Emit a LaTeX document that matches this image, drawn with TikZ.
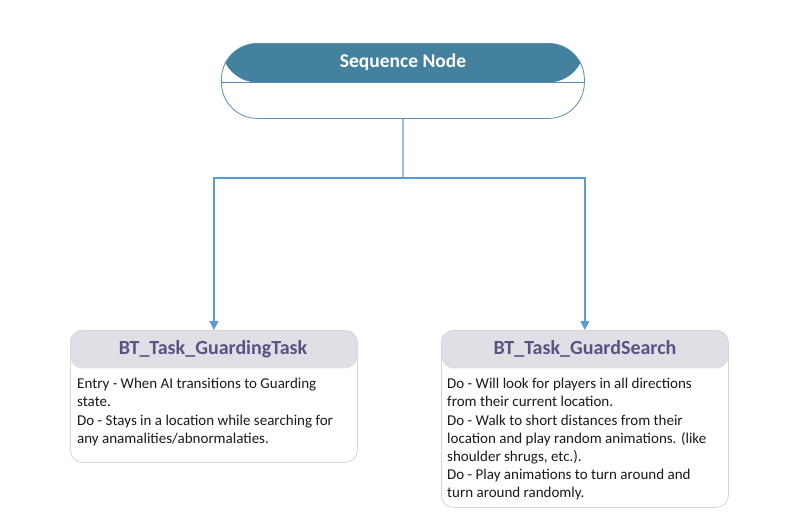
\documentclass[tikz,border=0pt]{standalone}
\usepackage{fontspec}
\setmainfont{Carlito}
\usetikzlibrary{arrows.meta,positioning}
\definecolor{seqhead}{HTML}{44819E}
\definecolor{seqborder}{HTML}{5A8EAD}
\definecolor{conn}{HTML}{5B9BD5}
\definecolor{taskhead}{HTML}{E0DFE6}
\definecolor{taskborder}{HTML}{D6D6DA}
\definecolor{tasktitle}{HTML}{5B5282}
\definecolor{bodytext}{HTML}{1A1A1A}
\tikzset{
  seqbox/.style={draw=seqborder, line width=0.8pt, fill=white, rounded corners=36pt,
    minimum width=363pt, minimum height=75pt, inner sep=0pt,
    path picture={\fill[seqhead] (path picture bounding box.north west) rectangle ([yshift=-39pt]path picture bounding box.north east);
      \draw[seqborder, line width=0.8pt] ([yshift=-39pt]path picture bounding box.north west) -- ([yshift=-39pt]path picture bounding box.north east);}},
  taskbox/.style={draw=taskborder, line width=0.8pt, fill=white, rounded corners=12pt,
    minimum width=287pt, inner sep=0pt,
    path picture={\fill[taskhead] (path picture bounding box.north west) rectangle ([yshift=-38pt]path picture bounding box.north east);}},
  tasktitlestyle/.style={text=tasktitle, font=\fontsize{20}{24}\selectfont\bfseries, inner sep=0pt},
  seqtitlestyle/.style={text=white, font=\fontsize{19.5}{24}\selectfont\bfseries, inner sep=0pt},
  bodystyle/.style={text=bodytext, font=\fontsize{15}{18.2}\selectfont, align=left, anchor=north west, inner sep=0pt},
  connline/.style={draw=conn, line width=1.25pt},
  connarrow/.style={connline, -{Triangle[width=9pt,length=9pt]}}
}
\begin{document}
\begin{tikzpicture}[x=1pt,y=-1pt]
\useasboundingbox (0,0) rectangle (803,531);
\node[seqbox, anchor=north west] (seq) at (221,43) {};
\node[seqtitlestyle] (seqt) at (403,62) {Sequence Node};
\node[taskbox, minimum height=132pt, anchor=north west] (t1) at (70,330) {};
\node[taskbox, minimum height=177pt, anchor=north west] (t2) at (441,330) {};
\node[tasktitlestyle] (t1t) at (213,349) {BT\_Task\_GuardingTask};
\node[tasktitlestyle] (t2t) at (585,349) {BT\_Task\_GuardSearch};
\node[bodystyle] (t1b) at (77,378) {Entry - When AI transitions to Guarding\\state.\\Do - Stays in a location while searching for\\any anamalities/abnormalaties.};
\node[bodystyle] (t2b) at (447,378) {Do - Will look for players in all directions\\from their current location.\\Do - Walk to short distances from their\\location and play random animations. (like\\shoulder shrugs, etc.).\\Do - Play animations to turn around and\\turn around randomly.};
\coordinate (j) at (403,178);
\draw[connline] (seq.south) -- (j);
\draw[connarrow] (j) -| (t1.north);
\draw[connarrow] (j) -| (t2.north);
\end{tikzpicture}
\end{document}
